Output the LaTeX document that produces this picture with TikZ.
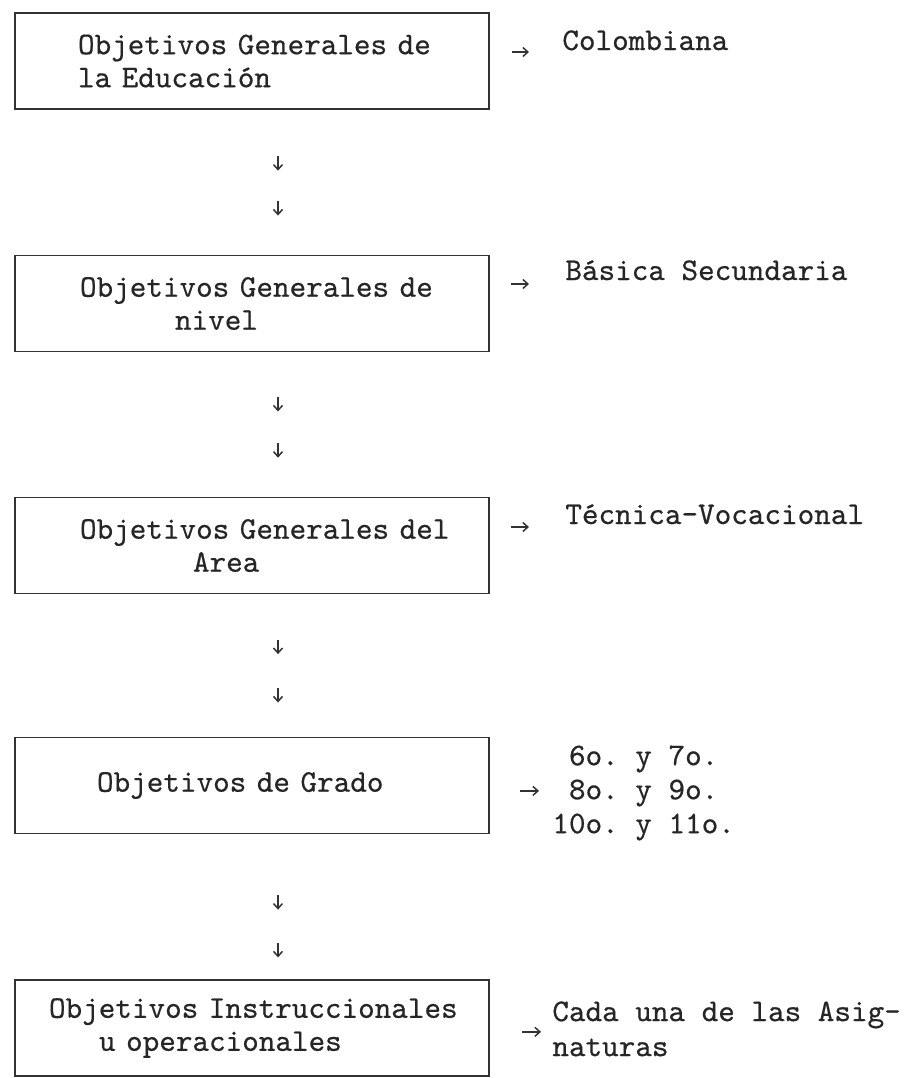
\documentclass[tikz,border=0pt]{standalone}
\usepackage{fontspec}
\setmonofont{lmmono10-regular.otf}[FakeBold=0.5]
\usetikzlibrary{arrows.meta}
\setlength{\parindent}{0pt}
\newcommand{\sangria}[1]{\hspace*{#1}}

\begin{document}
\begin{tikzpicture}[
    x=0.5pt, y=-0.5pt,
    >={Straight Barb[length=2.5pt,width=4.5pt]},
    font=\ttfamily\bfseries\fontsize{15.8pt}{16.5pt}\selectfont,
    objbox/.style={
        draw=black!80, line width=0.85pt, rectangle, text=black!85,
        minimum width=237pt, minimum height=48pt, text width=230pt,
        inner xsep=3.5pt, align=left
    },
    nota/.style={inner sep=0pt, text=black!85},
    flecha/.style={->, draw=black!80, line width=0.75pt}
]

\useasboundingbox (0,0) rectangle (911,1078);

% cajas de objetivos
\node[objbox] (obj1) at (252, 61) {\sangria{28pt}Objetivos Generales de\\
    \sangria{28pt}la Educación};
\node[objbox] (obj2) at (252, 303.5) {\sangria{29pt}Objetivos Generales de\\
    \sangria{76.5pt}nivel};
\node[objbox] (obj3) at (252, 545.5) {\sangria{29pt}Objetivos Generales del\\
    \sangria{85.5pt}Area};
\node[objbox] (obj4) at (252, 785.5) {\sangria{37.5pt}Objetivos de Grado};
\node[objbox] (obj5) at (252, 1028) {\sangria{13.5pt}Objetivos Instruccionales\\
    \sangria{38.5pt}u operacionales};

% textos de la derecha
\node[nota, anchor=base west] (colombiana) at (562, 50) {Colombiana};
\node[nota, anchor=base west] (basica) at (565, 280) {Básica Secundaria};
\node[nota, anchor=base west] (tecnica) at (565, 524) {Técnica-Vocacional};
\node[nota, anchor=north west, align=left, font=\ttfamily\bfseries\fontsize{15.8pt}{17pt}\selectfont]
    (grados) at (552, 745) {\phantom{1}6o. y 7o.\\
    \phantom{1}8o. y 9o.\\
    10o. y 11o.};
\node[nota, anchor=north west, align=left, font=\ttfamily\bfseries\fontsize{15.8pt}{17.5pt}\selectfont]
    (asignaturas) at (552, 1001) {Cada una de las Asig-\\naturas};

% flechas hacia abajo
\foreach \a/\b/\p/\q in {obj1/obj2/0.32/0.63, obj2/obj3/0.31/0.63, obj3/obj4/0.32/0.66, obj4/obj5/0.42/0.75} {
    \path ([xshift=13pt]\a.south) -- ([xshift=13pt]\b.north)
        coordinate[pos=\p] (\a-i) coordinate[pos=\p+0.1] (\a-ii)
        coordinate[pos=\q] (\a-iii) coordinate[pos=\q+0.1] (\a-iv);
    \draw[flecha] (\a-i) -- (\a-ii);
    \draw[flecha] (\a-iii) -- (\a-iv);
}

% flechas hacia la derecha
\foreach \b/\l/\s/\e/\dy in {obj1/colombiana.base west/11pt/16.5pt/-1pt,
        obj2/basica.base west/10.5pt/18pt/-2pt,
        obj3/tecnica.base west/10.5pt/18pt/-1.5pt,
        obj4/grados.west/15pt/6.5pt/1pt,
        obj5/asignaturas.west/16pt/5.5pt/-1.5pt} {
    \draw[flecha, shorten <=\s, shorten >=\e] ([yshift=\dy]\b.east |- \l) -- ([yshift=\dy]\l);
}

\end{tikzpicture}
\end{document}
